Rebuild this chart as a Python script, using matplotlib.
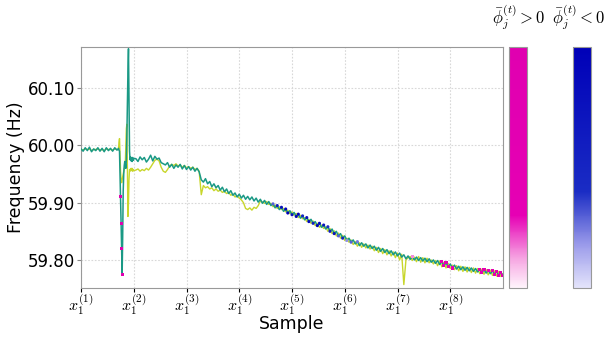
import matplotlib

matplotlib.use("Agg")
import matplotlib.pyplot as plt
import numpy as np
from matplotlib.colors import LinearSegmentedColormap, Normalize
from matplotlib.cm import ScalarMappable

# sample grid: coarse before/after the event, every sample around it
SAMPLES = np.concatenate([np.arange(0, 69, 4), np.arange(70, 101), np.arange(104, 801, 4)])

measured_freq = [
    # 0..68
    59.994, 59.990, 59.996, 59.991, 59.997, 59.989, 59.994, 59.991, 59.996, 59.990,
    59.995, 59.989, 59.996, 59.991, 59.995, 59.990, 59.996, 59.992,
    # 70..100
    59.993, 59.995, 59.992, 59.990, 59.950, 59.911, 59.864, 59.820, 59.775, 59.840,
    59.920, 59.950, 59.965, 59.972, 59.968, 59.960, 59.975, 60.020, 60.080, 60.130,
    60.169, 60.080, 59.990, 59.975, 59.980, 59.973, 59.978, 59.972, 59.979, 59.974,
    59.977,
    # 104..800
    59.977, 59.972, 59.980, 59.975, 59.979, 59.971, 59.976, 59.983, 59.973, 59.981,
    59.976, 59.978, 59.970, 59.968, 59.966, 59.970, 59.962, 59.967, 59.960, 59.966,
    59.962, 59.967, 59.959, 59.965, 59.958, 59.963, 59.957, 59.962, 59.955, 59.960,
    59.954, 59.940, 59.936, 59.942, 59.933, 59.937, 59.928, 59.933, 59.926, 59.930,
    59.922, 59.927, 59.919, 59.924, 59.916, 59.921, 59.913, 59.917, 59.910, 59.915,
    59.908, 59.913, 59.906, 59.911, 59.905, 59.910, 59.903, 59.908, 59.901, 59.906,
    59.899, 59.904, 59.897, 59.902, 59.895, 59.898, 59.891, 59.895, 59.888, 59.892,
    59.885, 59.889, 59.882, 59.886, 59.879, 59.883, 59.876, 59.880, 59.873, 59.877,
    59.870, 59.874, 59.867, 59.871, 59.864, 59.867, 59.860, 59.864, 59.857, 59.861,
    59.854, 59.858, 59.850, 59.854, 59.846, 59.850, 59.842, 59.846, 59.838, 59.842,
    59.834, 59.838, 59.831, 59.835, 59.828, 59.832, 59.825, 59.830, 59.824, 59.828,
    59.821, 59.826, 59.820, 59.824, 59.817, 59.822, 59.815, 59.820, 59.813, 59.818,
    59.811, 59.816, 59.809, 59.814, 59.807, 59.812, 59.805, 59.809, 59.802, 59.807,
    59.801, 59.806, 59.800, 59.805, 59.799, 59.804, 59.798, 59.803, 59.797, 59.802,
    59.796, 59.800, 59.794, 59.799, 59.792, 59.797, 59.790, 59.795, 59.788, 59.793,
    59.786, 59.791, 59.784, 59.789, 59.783, 59.788, 59.782, 59.787, 59.781, 59.786,
    59.780, 59.785, 59.779, 59.784, 59.778, 59.783, 59.777, 59.782, 59.776, 59.781,
    59.775, 59.780, 59.773, 59.778, 59.773,
]

predicted_freq = [
    # 0..68
    59.993, 59.992, 59.994, 59.993, 59.994, 59.991, 59.993, 59.993, 59.994, 59.992,
    59.993, 59.991, 59.994, 59.993, 59.993, 59.992, 59.994, 59.993,
    # 70..100
    59.993, 59.994, 60.005, 60.012, 59.985, 59.955, 59.940, 59.935, 59.940, 59.945,
    59.950, 59.955, 59.960, 59.962, 59.970, 60.000, 60.030, 60.037, 59.960, 59.876,
    59.900, 59.940, 59.958, 59.955, 59.958, 59.960, 59.956, 59.960, 59.955, 59.958,
    59.956,
    # 104..800
    59.957, 59.959, 59.955, 59.958, 59.956, 59.960, 59.957, 59.962, 59.968, 59.974,
    59.976, 59.973, 59.962, 59.955, 59.953, 59.958, 59.964, 59.967, 59.965, 59.968,
    59.964, 59.966, 59.962, 59.965, 59.961, 59.963, 59.960, 59.962, 59.958, 59.960,
    59.955, 59.914, 59.930, 59.926, 59.928, 59.924, 59.926, 59.921, 59.924, 59.920,
    59.922, 59.918, 59.920, 59.916, 59.918, 59.913, 59.915, 59.910, 59.912, 59.908,
    59.905, 59.900, 59.890, 59.888, 59.891, 59.887, 59.892, 59.890, 59.895, 59.903,
    59.901, 59.899, 59.902, 59.897, 59.899, 59.893, 59.896, 59.890, 59.893, 59.888,
    59.890, 59.884, 59.887, 59.881, 59.884, 59.878, 59.881, 59.874, 59.878, 59.872,
    59.874, 59.867, 59.871, 59.864, 59.868, 59.860, 59.864, 59.857, 59.861, 59.855,
    59.858, 59.850, 59.855, 59.846, 59.851, 59.842, 59.847, 59.838, 59.843, 59.834,
    59.838, 59.831, 59.835, 59.827, 59.832, 59.824, 59.830, 59.822, 59.828, 59.821,
    59.826, 59.819, 59.824, 59.816, 59.822, 59.813, 59.820, 59.811, 59.818, 59.809,
    59.816, 59.807, 59.814, 59.804, 59.812, 59.800, 59.810, 59.757, 59.800, 59.804,
    59.806, 59.799, 59.805, 59.797, 59.806, 59.796, 59.804, 59.795, 59.803, 59.795,
    59.800, 59.793, 59.799, 59.790, 59.798, 59.788, 59.796, 59.786, 59.794, 59.785,
    59.791, 59.783, 59.790, 59.781, 59.789, 59.780, 59.788, 59.779, 59.787, 59.778,
    59.786, 59.777, 59.785, 59.776, 59.784, 59.775, 59.783, 59.774, 59.782, 59.773,
    59.781, 59.772, 59.780, 59.771, 59.776,
]

# mean attributions on individual samples
pos_samples = [75, 76, 77, 78, 628, 684, 688, 692, 696, 704, 756, 760, 764, 772, 780, 784, 788, 792, 796, 800]
pos_values = [0.9, 1.0, 1.0, 1.0, 0.15, 0.5, 0.9, 1.0, 0.6, 0.3, 0.4, 0.9, 0.6, 0.3, 0.5, 0.8, 1.0, 0.7, 0.9, 1.0]
neg_samples = [364, 372, 380, 388, 392, 400, 408, 412, 420, 428, 432, 440, 448, 452, 460, 468, 472, 480, 488, 496, 504, 512, 524]
neg_values = [-0.3, -0.6, -0.8, -0.9, -1.0, -0.7, -0.9, -1.0, -0.5, -0.8, -0.9, -0.6, -1.0, -0.9, -0.7, -0.4, -0.6, -0.8, -0.3, -0.5, -0.2, -0.3, -0.25]

tick_positions = [0, 100, 200, 300, 400, 500, 600, 700]
tick_labels = [f"$x_1^{{({k})}}$" for k in range(1, 9)]
y_ticks = [59.80, 59.90, 60.00, 60.10]


def make_cmaps():
    pos_cmap = LinearSegmentedColormap.from_list(
        "pos", [(0.0, "#fff4fc"), (0.12, "#f6a6e2"), (0.3, "#e600b4"), (1.0, "#e000b0")]
    )
    neg_cmap = LinearSegmentedColormap.from_list(
        "neg", [(0.0, "#e4e4fb"), (0.18, "#9a9aea"), (0.4, "#1a2cc4"), (1.0, "#0000b8")]
    )
    return pos_cmap, neg_cmap


def main():
    plt.rcParams["mathtext.fontset"] = "cm"
    pos_cmap, neg_cmap = make_cmaps()
    norm = Normalize(0, 1)

    fig = plt.figure(figsize=(6.07, 3.38), dpi=100)
    ax = fig.add_axes([81 / 607, 50 / 338, 422 / 607, 241 / 338])

    x = SAMPLES
    y = np.array(measured_freq)
    ax.plot(x, predicted_freq, color="#c8d62b", lw=1.0, zorder=2)
    ax.plot(x, y, color="#1a9985", lw=1.1, zorder=3)

    ax.scatter(pos_samples, np.interp(pos_samples, x, y), c=pos_values, cmap=pos_cmap, norm=norm,
               marker="s", s=5, linewidths=0, zorder=4)
    ax.scatter(neg_samples, np.interp(neg_samples, x, y), c=np.abs(neg_values), cmap=neg_cmap, norm=norm,
               marker="o", s=5, linewidths=0, zorder=4)

    ax.set_xlim(0, 800)
    ax.set_ylim(59.751, 60.172)
    ax.set_xticks(tick_positions)
    ax.set_xticklabels(tick_labels, fontsize=11.5)
    ax.set_yticks(y_ticks)
    ax.set_yticklabels([f"{v:.2f}" for v in y_ticks], fontsize=12)
    ax.tick_params(axis="x", length=3, width=0.8, pad=0)
    ax.tick_params(axis="y", length=3, width=0.8, color="#888888", pad=1)
    ax.grid(True, color="#d8d8d8", linestyle=(0, (1.5, 1.5)), linewidth=0.8)
    for spine in ax.spines.values():
        spine.set_color("#999999")
        spine.set_linewidth(0.8)

    ax.set_xlabel("Sample", fontsize=12.5)
    ax.xaxis.set_label_coords(0.5, -0.112)
    ax.set_ylabel("Frequency (Hz)", fontsize=12.5)
    ax.yaxis.set_label_coords(-0.133, 0.5)

    titles = [(509, 519, pos_cmap, ">"), (573, 579, neg_cmap, "<")]
    for left, text_x, cmap, sign in titles:
        cax = fig.add_axes([left / 607, 50 / 338, 18 / 607, 241 / 338])
        cb = fig.colorbar(ScalarMappable(norm=norm, cmap=cmap), cax=cax)
        cb.set_ticks([])
        cb.outline.set_edgecolor("#999999")
        cb.outline.set_linewidth(0.8)
        fig.text(text_x / 607, 1 - 17 / 338, rf"$\bar{{\phi}}_j^{{(t)}} {sign} 0$",
                 ha="center", va="center", fontsize=12)

    fig.savefig("out.png", dpi=100)


if __name__ == "__main__":
    main()
